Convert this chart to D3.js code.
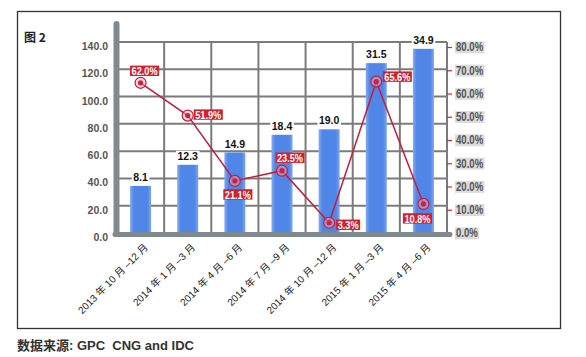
<!DOCTYPE html>
<html><head><meta charset="utf-8">
<script src="https://cdn.jsdelivr.net/npm/d3@7"></script>
<style>
html,body{margin:0;padding:0;background:#fff;}
svg{display:block;}
</style></head>
<body>
<svg id="c" width="586" height="357"></svg>
<script>
const categories = ["2013 年 10 月 –12 月", "2014 年 1 月 –3 月", "2014 年 4 月 –6 月", "2014 年 7 月 –9 月", "2014 年 10 月 –12 月", "2015 年 1 月 –3 月", "2015 年 4 月 –6 月"];
const barLabels = [8.1, 12.3, 14.9, 18.4, 19.0, 31.5, 34.9];
const barHeights = [34.5, 50, 59, 72, 76, 124.5, 135];
const growthLabels = [62.0, 51.9, 21.1, 23.5, 3.3, 65.6, 10.8];
const growthPlotted = [64.6, 50.5, 22.4, 26.8, 4.4, 65.1, 12.5];
const leftTicks = [0, 20, 40, 60, 80, 100, 120, 140];
const rightTicks = [0, 10, 20, 30, 40, 50, 60, 70, 80];
const title = "图 2";
const source = "数据来源: GPC  CNG and IDC";

// layout (not data): label placement relative to each point
const labelPlace = [["middle",4,-12],["start",6,-1],["middle",3,13.5],["middle",8,-13],["start",7,2],["start",6.5,-5],["middle",-6,14.5]];

const base = "'Liberation Sans',Arial,sans-serif";
const svg = d3.select("#c");

function condense(sel, k){
  sel.each(function(){
    const w = this.getComputedTextLength();
    d3.select(this).attr("textLength", w*k).attr("lengthAdjust","spacingAndGlyphs");
  });
}

// frame
svg.append("rect").attr("x",17.5).attr("y",11.5).attr("width",543).attr("height",317)
  .attr("fill","none").attr("stroke","#333").attr("stroke-width",1.3);

svg.append("text").attr("x",24).attr("y",42).text(title)
  .attr("font-family","'Noto Sans CJK SC',sans-serif").attr("font-weight","bold")
  .attr("font-size",12).attr("fill","#222");

const x = d3.scaleBand().domain(categories).range([117, 447]).padding(0);
const yL = d3.scaleLinear().domain([0,140]).range([233,42]);
const yR = d3.scaleLinear().domain([0,80]).range([233,47]);

const defs = svg.append("defs");
const g = defs.append("linearGradient").attr("id","bg").attr("x1","0").attr("x2","1").attr("y1","0").attr("y2","0");
[[0,"#86acf0"],[0.18,"#4f86e8"],[0.82,"#4f86e8"],[1,"#7ea6ef"]].forEach(([o,c])=>g.append("stop").attr("offset",o).attr("stop-color",c));

// gridlines
svg.append("g").selectAll("line").data(leftTicks).join("line")
  .attr("x1",117).attr("x2",447).attr("y1",d=>yL(d)).attr("y2",d=>yL(d))
  .attr("stroke","#7b7b7b").attr("stroke-width",2);
svg.append("g").selectAll("line").data(categories.slice(0,-1)).join("line")
  .attr("x1",d=>x(d)+x.bandwidth()).attr("x2",d=>x(d)+x.bandwidth())
  .attr("y1",yL(140)).attr("y2",yL(0))
  .attr("stroke","#7b7b7b").attr("stroke-width",2);

// right axis
svg.append("line").attr("x1",447).attr("x2",447).attr("y1",yL(140)).attr("y2",yL(0))
  .attr("stroke","#7b7b7b").attr("stroke-width",2);
const ra = svg.append("g").attr("transform","translate(447,0)")
  .call(d3.axisRight(yR).tickValues(rightTicks).tickFormat(d=>d.toFixed(1)+"%").tickSize(5).tickPadding(4));
ra.select(".domain").remove();
ra.selectAll(".tick line").attr("stroke","#d0263a").attr("stroke-width",1.2);
ra.selectAll(".tick text").attr("font-family",base).attr("font-weight","bold")
  .attr("font-size",12).attr("fill","#555").call(condense,0.8);
ra.selectAll(".tick").each(function(){
  const t = d3.select(this).select("text");
  const b = t.node().getBBox();
  d3.select(this).insert("rect","text").attr("x",b.x-1).attr("y",b.y+1).attr("width",b.width+2).attr("height",b.height-2)
    .attr("fill","#dcdcdc");
});

// left axis labels
const la = svg.append("g").attr("transform","translate(117,0)")
  .call(d3.axisLeft(yL).tickValues(leftTicks).tickFormat(d3.format(".1f")).tickSize(0).tickPadding(9));
la.select(".domain").remove();
la.selectAll(".tick text").attr("font-family",base).attr("font-weight","bold")
  .attr("font-size",10.5).attr("fill","#555").attr("dy","0.72em");

// bars
const bw = 21;
svg.append("g").selectAll("rect").data(categories).join("rect")
  .attr("x",d=>x(d)+x.bandwidth()/2-bw/2).attr("width",bw)
  .attr("y",(d,i)=>yL(barHeights[i])).attr("height",(d,i)=>yL(0)-yL(barHeights[i]))
  .attr("fill","url(#bg)");

// bar labels
const bl = svg.append("g").selectAll("g").data(categories).join("g")
  .attr("transform",(d,i)=>`translate(${x(d)+x.bandwidth()/2},${yL(barHeights[i])-5})`);
bl.append("text").text((d,i)=>barLabels[i].toFixed(1)).attr("text-anchor","middle")
  .attr("font-family",base).attr("font-weight","bold")
  .attr("font-size",10.5).attr("fill","#111");
bl.each(function(){
  const b = d3.select(this).select("text").node().getBBox();
  d3.select(this).insert("rect","text").attr("x",b.x-1.5).attr("y",b.y+1).attr("width",b.width+3).attr("height",b.height-2).attr("fill","#fff");
});

// thick axes
svg.append("line").attr("x1",116.5).attr("x2",116.5).attr("y1",24).attr("y2",234)
  .attr("stroke","#7f8990").attr("stroke-width",6).attr("stroke-linecap","round");
svg.append("line").attr("x1",115).attr("x2",450).attr("y1",234.5).attr("y2",234.5)
  .attr("stroke","#7f8990").attr("stroke-width",5).attr("stroke-linecap","round");

// growth line
const cx = d=>x(d)+x.bandwidth()/2;
svg.append("path").datum(categories)
  .attr("d",d3.line().x(cx).y((d,i)=>yR(growthPlotted[i])))
  .attr("fill","none").attr("stroke","#c41e3a").attr("stroke-width",1.5);
const mk = svg.append("g").selectAll("g").data(categories).join("g")
  .attr("transform",(d,i)=>`translate(${cx(d)},${yR(growthPlotted[i])})`);
mk.append("circle").attr("r",5.5).attr("fill","rgba(245,170,185,0.45)").attr("stroke","#c41e3a").attr("stroke-width",1.2);
mk.append("circle").attr("r",2.6).attr("fill","#d0203a");

// growth labels
const gl = svg.append("g").selectAll("g").data(categories).join("g")
  .attr("transform",(d,i)=>`translate(${cx(d)+labelPlace[i][1]},${yR(growthPlotted[i])+labelPlace[i][2]})`);
gl.append("text").text((d,i)=>growthLabels[i].toFixed(1)+"%")
  .attr("text-anchor",(d,i)=>labelPlace[i][0])
  .attr("x",(d,i)=>labelPlace[i][0]==="start"?1.5:0)
  .attr("dy","0.36em")
  .attr("font-family",base).attr("font-weight","bold").attr("font-size",11.5).attr("fill","#fff")
  .call(condense,0.8);
gl.each(function(){
  const b = d3.select(this).select("text").node().getBBox();
  d3.select(this).insert("rect","text").attr("x",b.x-1.5).attr("y",-5.2).attr("width",b.width+3).attr("height",10.4).attr("fill","#d3202f");
});

// x labels
svg.append("g").selectAll("text").data(categories).join("text")
  .attr("transform",d=>`translate(${cx(d)+8},248) rotate(-45)`)
  .attr("text-anchor","end").text(d=>d)
  .attr("font-family","'Liberation Sans','Noto Sans CJK SC',sans-serif").attr("font-size",10).attr("fill","#222");

// source
svg.append("text").attr("x",17).attr("y",350).text(source)
  .style("white-space","pre")
  .attr("font-family","'Liberation Sans','Noto Sans CJK SC',sans-serif").attr("font-weight","bold")
  .attr("font-size",13).attr("fill","#333");
</script>
</body></html>
